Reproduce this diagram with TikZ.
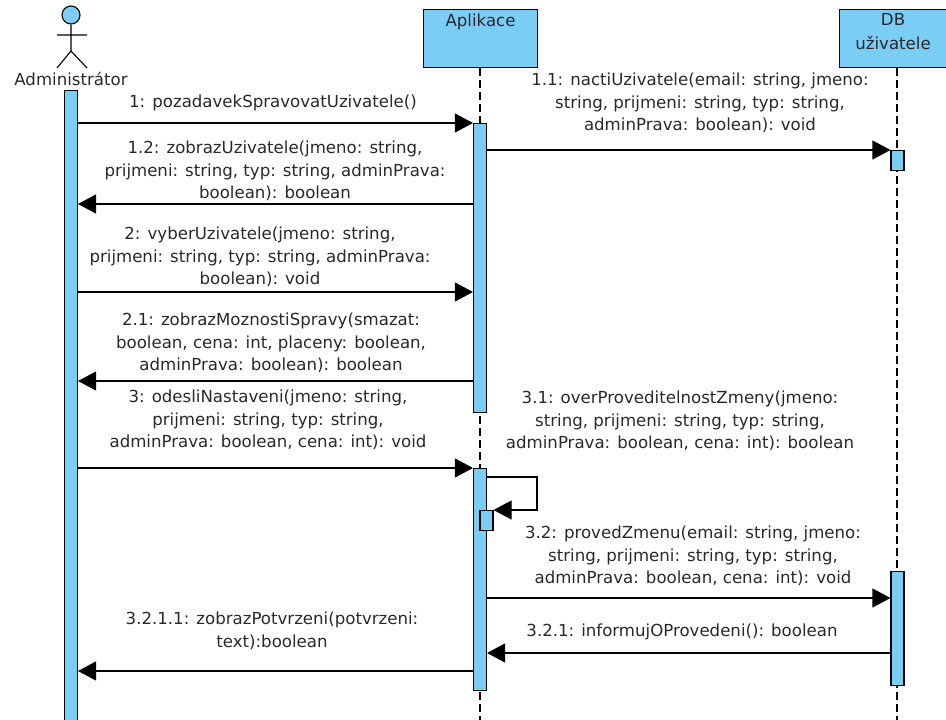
\documentclass[tikz,border=0pt]{standalone}
\usepackage{fontspec}
\setmainfont{DejaVu Sans}
\usetikzlibrary{arrows.meta,positioning}
\definecolor{barblue}{RGB}{122,206,245}
\definecolor{txtgray}{RGB}{40,40,40}

\begin{document}
\begin{tikzpicture}[x=1pt, y=-1pt, line width=1.1pt,
 every node/.style={inner sep=0pt, text=txtgray},
 bar/.style={draw, fill=barblue, minimum width=13pt, anchor=north},
 head/.style={draw, fill=barblue, minimum width=114pt, minimum height=58pt, anchor=north west},
 life/.style={dash pattern=on 8pt off 4pt},
 msg/.style={-{Triangle[length=18pt, width=19pt]}},
 lbl/.style={align=center, font=\fontsize{16.6}{22.6}\selectfont}]

 \useasboundingbox (0,0) rectangle (946,720);

 % actor
 \node[draw, circle, fill=barblue, minimum size=18pt] (head) at (71,15) {};
 \coordinate (hip) at (71,51);
 \draw (head.south) -- (hip) (57,35) -- (87,35) (57,68) -- (hip) -- (87,68);
 \node[font=\fontsize{16.6}{18}\selectfont] (actor) at (71,79) {Administrátor};

 % lifelines
 \node[head] (app) at (423,9) {};
 \node[lbl, font=\fontsize{16.6}{24}\selectfont, below=4pt of app.north] {Aplikace};
 \node[head, minimum width=107pt] (db) at (839,9) {};
 \node[lbl, font=\fontsize{16.6}{24}\selectfont, below=4pt of db.north] {DB\\uživatele};
 \draw[life] (app.south -| 480,0) -- (480,720);
 \draw[life] (db.south -| 897,0) -- (897,720);

 % activations
 \node[bar, minimum height=630pt] (adm) at (71,90) {};
 \node[bar, minimum height=289pt] (app1) at (480,123) {};
 \node[bar, minimum height=222pt] (app2) at (480,468) {};
 \node[bar, minimum height=20pt] (app3) at (486.5,510) {};
 \node[bar, minimum height=20pt] (db1) at (897.5,150) {};
 \node[bar, minimum height=114pt] (db2) at (897.5,571) {};

 % messages
 \draw[msg] (adm.east |- app1.north) -- (app1.north west);
 \node[lbl] (m1) at (273,103) {1: pozadavekSpravovatUzivatele()};
 \draw[msg] (app1.east |- db1.north) -- (db1.north west);
 \node[lbl] (m11) at (700,103) {1.1: nactiUzivatele(email: string, jmeno:\\string, prijmeni: string, typ: string,\\adminPrava: boolean): void};
 \draw[msg] (app1.west |- 0,204) -- (adm.east |- 0,204);
 \node[lbl] (m12) at (275,171) {1.2: zobrazUzivatele(jmeno: string,\\prijmeni: string, typ: string, adminPrava:\\boolean): boolean};
 \draw[msg] (adm.east |- 0,292) -- (app1.west |- 0,292);
 \node[lbl] (m2) at (260,257) {2: vyberUzivatele(jmeno: string,\\prijmeni: string, typ: string, adminPrava:\\boolean): void};
 \draw[msg] (app1.west |- 0,381) -- (adm.east |- 0,381);
 \node[lbl] (m21) at (271,343) {2.1: zobrazMoznostiSpravy(smazat:\\boolean, cena: int, placeny: boolean,\\adminPrava: boolean): boolean};
 \draw[msg] (adm.east |- app2.north) -- (app2.north west);
 \node[lbl] (m3) at (268,420) {3: odesliNastaveni(jmeno: string,\\prijmeni: string, typ: string,\\adminPrava: boolean, cena: int): void};
 \draw[msg] (app2.east |- 0,477) -- (537,477) |- (app3.north east);
 \node[lbl] (m31) at (680,421) {3.1: overProveditelnostZmeny(jmeno:\\string, prijmeni: string, typ: string,\\adminPrava: boolean, cena: int): boolean};
 \draw[msg] (app2.east |- 0,598) -- (db2.west |- 0,598);
 \node[lbl] (m32) at (693,556) {3.2: provedZmenu(email: string, jmeno:\\string, prijmeni: string, typ: string,\\adminPrava: boolean, cena: int): void};
 \draw[msg] (db2.west |- 0,653) -- (app2.east |- 0,653);
 \node[lbl] (m321) at (682,632) {3.2.1: informujOProvedeni(): boolean};
 \draw[msg] (app2.west |- 0,671) -- (adm.east |- 0,671);
 \node[lbl] (m3211) at (272,631) {3.2.1.1: zobrazPotvrzeni(potvrzeni:\\text):boolean};
\end{tikzpicture}
\end{document}
